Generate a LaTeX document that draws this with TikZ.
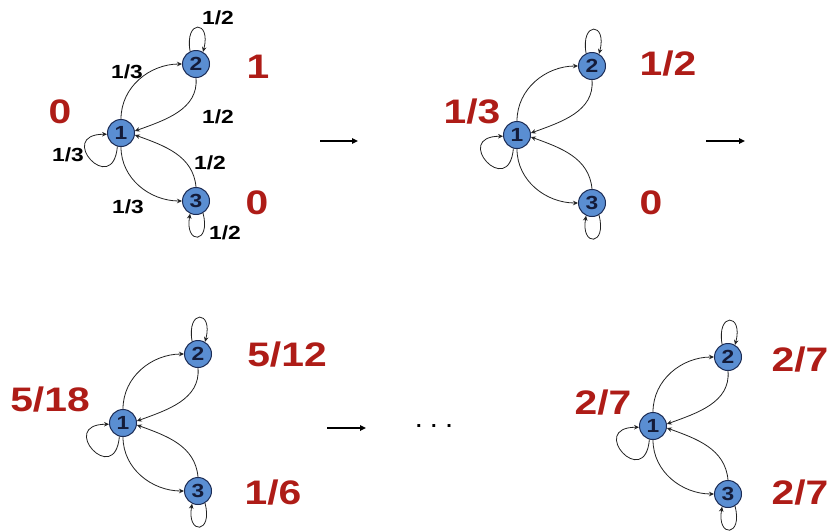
\documentclass[tikz,border=0pt]{standalone}
\usepackage{fontspec}
\setmainfont{Liberation Sans}
\newfontfamily\wide[FakeStretch=1.2]{Liberation Sans}
\usetikzlibrary{arrows.meta}
\definecolor{nodeblue}{HTML}{5A8ED2}
\definecolor{navy}{HTML}{1C2C55}
\definecolor{navytext}{HTML}{141C3A}
\definecolor{valred}{HTML}{AE1C17}
\definecolor{edgec}{HTML}{222222}
\begin{document}
\begin{tikzpicture}[x=1pt,y=1pt,
  st/.style={circle,draw=navy,line width=1pt,fill=nodeblue,minimum size=27pt,inner sep=0pt,
    font=\wide\bfseries\fontsize{19}{19}\selectfont,text=navytext},
  ed/.style={draw=edgec,line width=0.8pt,-{Stealth[length=5pt,width=4.5pt]}},
  val/.style={text=valred,font=\wide\bfseries\fontsize{34}{34}\selectfont,inner sep=0pt},
  prob/.style={text=black,font=\wide\bfseries\fontsize{19}{19}\selectfont,inner sep=0pt},
  nextarr/.style={draw=black,line width=1.6pt,-{Triangle[length=6pt,width=5.5pt]}},
  mc/.pic={
    \node[st] (-n1) at (0,0) {1};
    \node[st] (-n2) at (75,69) {2};
    \node[st] (-n3) at (75,-68) {3};
    \draw[ed] (-n1.north) to[out=90,in=180] (-n2.west);
    \draw[ed] (-n2.south) to[out=-85,in=20] (-n1.8);
    \draw[ed] (-n3.north) to[out=95,in=-20] (-n1.-8);
    \draw[ed] (-n1.south) to[out=-90,in=180] (-n3.west);
    \draw[ed] (-n1.255) .. controls +(-95:52) and +(180:52) .. (-n1.185);
    \draw[ed] (-n2.115) .. controls +(100:33) and +(75:33) .. (-n2.60);
    \draw[ed] (-n3.-60) .. controls +(-75:32) and +(-100:32) .. (-n3.-115);
  }]
\useasboundingbox (0,0) rectangle (834,-531);

% graph 1
\pic (g1) at (121,-133) {mc};
\node[prob] (p1) at (218,-18) {1/2};
\node[prob] (p2) at (127,-72) {1/3};
\node[prob] (p3) at (218,-117) {1/2};
\node[prob] (p4) at (68,-155) {1/3};
\node[prob] (p5) at (210,-163) {1/2};
\node[prob] (p6) at (128,-207) {1/3};
\node[prob] (p7) at (225,-233) {1/2};
\node[val] (v11) at (60,-112) {0};
\node[val] (v12) at (258,-67) {1};
\node[val] (v13) at (257,-203) {0};

% graph 2
\pic (g2) at (517,-135) {mc};
\node[val] (v21) at (472,-112) {1/3};
\node[val] (v22) at (668,-64) {1/2};
\node[val] (v23) at (651,-203) {0};

% graph 3
\pic (g3) at (123,-423) {mc};
\node[val] (v31) at (50,-400) {5/18};
\node[val] (v32) at (287,-355) {5/12};
\node[val] (v33) at (273,-493) {1/6};

% graph 4
\pic (g4) at (653,-426) {mc};
\node[val] (v41) at (603,-403) {2/7};
\node[val] (v42) at (800,-360) {2/7};
\node[val] (v43) at (800,-493) {2/7};

% step arrows
\coordinate (a1s) at (320,-141); \coordinate (a1e) at (358,-141);
\coordinate (a2s) at (706,-141); \coordinate (a2e) at (745,-141);
\coordinate (a3s) at (327,-428); \coordinate (a3e) at (366,-428);
\draw[nextarr] (a1s) -- (a1e);
\draw[nextarr] (a2s) -- (a2e);
\draw[nextarr] (a3s) -- (a3e);
\node[font=\bfseries\fontsize{20}{20}\selectfont,inner sep=0pt] (dots) at (434,-426) {.\hspace{9.5pt}.\hspace{9.5pt}.};
\end{tikzpicture}
\end{document}
